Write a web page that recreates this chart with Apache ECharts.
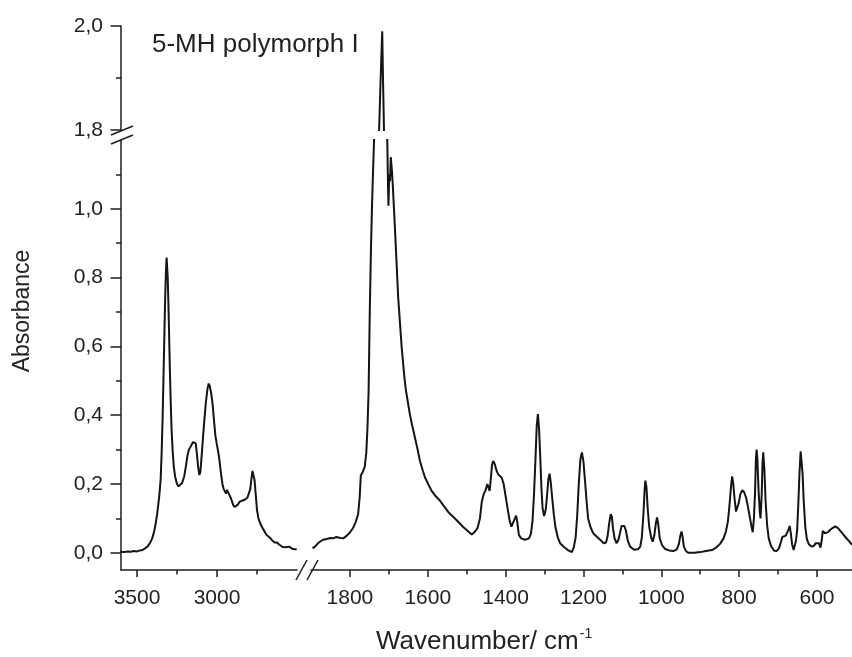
<!DOCTYPE html>
<html><head><meta charset="utf-8">
<script src="https://cdn.jsdelivr.net/npm/echarts@6/dist/echarts.min.js"></script>
<style>html,body{margin:0;padding:0;background:#fff}#c{width:852px;height:657px}</style>
</head><body><div id="c"></div>
<script>
// ---- data (wavenumber / absorbance) ----
const wnHigh = [3606,3580,3560,3540,3520,3500,3481,3465,3450,3435,3419,3405,3395,3385,3375,3367,3360,3352,3346,3340,3334,3329,3324,3319,3315,3312,3308,3304,3300,3295,3290,3284,3277,3270,3262,3250,3240,3230,3218,3205,3195,3185,3175,3160,3150,3140,3133,3126,3118,3110,3104,3097,3090,3080,3070,3060,3052,3045,3035,3027,3018,3010,3002,2993,2985,2975,2966,2958,2950,2944,2938,2933,2926,2918,2910,2900,2890,2880,2870,2860,2850,2840,2825,2810,2800,2792,2785,2778,2772,2765,2758,2750,2742,2732,2722,2711,2700,2690,2680,2669,2655,2640,2625,2612,2600,2590,2580,2570,2560,2550,2540,2530,2520,2510,2502];
const absHigh = [0.003,0.002,0.004,0.003,0.005,0.004,0.007,0.008,0.013,0.018,0.028,0.042,0.058,0.080,0.110,0.140,0.170,0.215,0.290,0.390,0.520,0.630,0.740,0.820,0.858,0.855,0.800,0.730,0.650,0.540,0.450,0.360,0.295,0.250,0.222,0.200,0.193,0.195,0.203,0.222,0.250,0.282,0.300,0.313,0.322,0.327,0.318,0.290,0.250,0.226,0.235,0.275,0.320,0.380,0.435,0.475,0.492,0.485,0.460,0.430,0.380,0.340,0.318,0.295,0.270,0.230,0.200,0.185,0.180,0.172,0.183,0.180,0.172,0.168,0.155,0.140,0.133,0.135,0.140,0.148,0.150,0.152,0.155,0.160,0.165,0.185,0.215,0.238,0.236,0.210,0.170,0.125,0.102,0.088,0.078,0.068,0.060,0.052,0.048,0.044,0.036,0.030,0.030,0.024,0.019,0.017,0.014,0.016,0.020,0.018,0.014,0.012,0.013,0.010,0.010];
const wnLow = [1896,1890,1880,1869,1860,1850,1843,1835,1825,1817,1808,1800,1792,1785,1779,1775,1772,1767,1762,1758,1755,1752,1749,1746,1743,1740,1738,1732,1725,1721,1717,1715,1712.5,1708,1704,1702,1701,1699,1697,1695,1692,1690,1684,1676,1667,1660,1656,1646,1640,1633,1626,1620,1613,1607,1598,1590,1580,1569,1560,1547,1534,1520,1509,1498,1487,1480,1472,1466,1461,1456,1452,1447,1444,1441,1438,1435,1432,1428,1423,1419,1416,1410,1405,1400,1395,1390,1385,1380,1376,1373,1370,1366,1360,1350,1340,1335,1331,1327,1323,1320,1317,1314,1311,1308,1305,1301,1297,1294,1290,1287,1284,1281,1276,1272,1266,1260,1250,1240,1230,1225,1220,1216,1212,1208,1204,1200,1196,1192,1188,1182,1175,1165,1157,1148,1142,1138,1134,1130,1127,1124,1120,1115,1110,1106,1102,1099,1095,1091,1086,1080,1070,1060,1054,1050,1046,1043,1041,1038,1035,1031,1026,1022,1018,1014,1011,1008,1004,998,990,980,969,960,955,951,948,945,942,936,930,915,900,885,870,860,849,840,834,829,825,821,818,815,812,808,805,801,797,792,787,782,777,772,768,765,762,759,757,755,753,750,747,745,742,740,738,735,732,728,724,718,710,704,698,693,689,685,680,676,673,670,667,664,660,657,654,651,648,645,642,640,637,634,630,626,621,614,608,603,599,595,591,588,585,580,576,571,566,560,553,546,540,533,525,517,510];
const absLow = [0.013,0.018,0.030,0.038,0.040,0.043,0.042,0.046,0.043,0.042,0.050,0.059,0.072,0.090,0.112,0.160,0.225,0.235,0.250,0.290,0.360,0.470,0.700,0.880,1.020,1.130,1.198,1.500,1.800,1.900,1.990,1.900,1.800,1.500,1.198,1.060,1.009,1.100,1.080,1.150,1.110,1.072,0.936,0.742,0.597,0.510,0.471,0.403,0.370,0.335,0.300,0.267,0.240,0.219,0.198,0.180,0.165,0.152,0.138,0.118,0.104,0.088,0.075,0.064,0.053,0.060,0.072,0.100,0.150,0.172,0.180,0.200,0.205,0.180,0.215,0.255,0.267,0.258,0.238,0.228,0.226,0.218,0.200,0.165,0.130,0.095,0.076,0.074,0.100,0.108,0.090,0.052,0.042,0.038,0.042,0.055,0.090,0.170,0.280,0.370,0.403,0.360,0.280,0.190,0.130,0.107,0.125,0.160,0.215,0.230,0.205,0.168,0.110,0.075,0.045,0.028,0.017,0.008,0.002,0.015,0.045,0.110,0.200,0.270,0.292,0.265,0.210,0.150,0.100,0.075,0.057,0.046,0.038,0.028,0.030,0.048,0.085,0.112,0.105,0.070,0.042,0.028,0.038,0.058,0.078,0.082,0.078,0.065,0.035,0.018,0.009,0.010,0.018,0.045,0.110,0.180,0.210,0.190,0.130,0.075,0.045,0.032,0.050,0.085,0.103,0.085,0.042,0.022,0.011,0.007,0.005,0.010,0.025,0.050,0.062,0.045,0.018,0.004,0.000,0.000,0.002,0.005,0.008,0.014,0.026,0.042,0.062,0.090,0.135,0.190,0.222,0.200,0.160,0.120,0.115,0.145,0.170,0.182,0.176,0.160,0.132,0.100,0.075,0.060,0.100,0.180,0.270,0.300,0.270,0.180,0.120,0.100,0.170,0.260,0.292,0.240,0.150,0.080,0.042,0.020,0.006,0.005,0.012,0.030,0.046,0.050,0.050,0.055,0.068,0.078,0.055,0.025,0.008,0.010,0.035,0.065,0.140,0.230,0.295,0.290,0.230,0.150,0.075,0.040,0.025,0.018,0.020,0.028,0.033,0.028,0.015,0.035,0.064,0.057,0.054,0.060,0.067,0.072,0.077,0.072,0.064,0.054,0.043,0.033,0.023];

// ---- tick values ----
const yMajorLower = [0, 0.2, 0.4, 0.6, 0.8, 1.0];
const yMinorLower = [0.1, 0.3, 0.5, 0.7, 0.9, 1.1];
const yMajorUpper = [1.8, 2.0];
const yMinorUpper = [1.9];
const xMajorHigh = [3500, 3000];
const xMinorHigh = [3250, 2750];
const xMajorLow = [1800, 1600, 1400, 1200, 1000, 800, 600];
const xMinorLow = [1700, 1500, 1300, 1100, 900, 700];

const zip = (a, b) => a.map((v, i) => [v, b[i]]);
const dataHigh = zip(wnHigh, absHigh);
const dataLow = zip(wnLow, absLow);

const INK = '#1e1e1e';
const FONT = "'Liberation Sans', Arial, sans-serif";
const L = {left: 121, gapL: 297, gapR: 311, right: 852, top: 26, upBot: 130, lowTop: 140, bottom: 570};

const chart = echarts.init(document.getElementById('c'), null, {renderer: 'canvas'});

const lineAx = {show: true, onZero: false, lineStyle: {color: INK, width: 1.5}};
const fmtY = v => v.toFixed(1).replace('.', ',');
const fmtX = v => String(Math.round(v));

function xAx(grid, min, max, ticks, major, show) {
  return {
    type: 'value', gridIndex: grid, min: min, max: max, inverse: true, position: 'bottom',
    show: show, splitLine: {show: false},
    axisLine: major ? lineAx : {show: false, onZero: false},
    axisTick: {show: true, inside: false, length: major ? 7 : 4.5, customValues: ticks,
               lineStyle: {color: INK, width: 1.5}},
    axisLabel: major ? {show: true, customValues: ticks, margin: 18, color: '#222',
               fontSize: 21, fontFamily: FONT, formatter: fmtX} : {show: false}
  };
}
function yAx(grid, min, max, ticks, major, show) {
  return {
    type: 'value', gridIndex: grid, min: min, max: max, position: 'left',
    show: show, splitLine: {show: false},
    axisLine: major ? lineAx : {show: false, onZero: false},
    axisTick: {show: true, inside: false, length: major ? 10.5 : 5, customValues: ticks,
               lineStyle: {color: INK, width: 1.5}},
    axisLabel: major ? {show: true, customValues: ticks, margin: 18, color: '#222',
               fontSize: 21, fontFamily: FONT, formatter: fmtY} : {show: false}
  };
}

const lineSeries = (xi, yi, data) => ({
  type: 'line', xAxisIndex: xi, yAxisIndex: yi, data: data, clip: true,
  symbol: 'none', showSymbol: false, smooth: false, silent: true,
  lineStyle: {color: '#141414', width: 2}
});

const option = {
  animation: false,
  backgroundColor: '#fff',
  grid: [
    {left: L.left, top: L.lowTop, width: L.gapL - L.left, height: L.bottom - L.lowTop},
    {left: L.gapR, top: L.lowTop, width: L.right - L.gapR, height: L.bottom - L.lowTop},
    {left: L.left, top: L.top, width: L.gapL - L.left, height: L.upBot - L.top},
    {left: L.gapR, top: L.top, width: L.right - L.gapR, height: L.upBot - L.top}
  ],
  xAxis: [
    xAx(0, 2500, 3600, xMajorHigh, true, true),
    xAx(0, 2500, 3600, xMinorHigh, false, true),
    xAx(1, 510, 1900, xMajorLow, true, true),
    xAx(1, 510, 1900, xMinorLow, false, true),
    xAx(2, 2500, 3600, [], false, false),
    xAx(3, 510, 1900, [], false, false)
  ],
  yAxis: [
    yAx(0, -0.05, 1.2, yMajorLower, true, true),
    yAx(0, -0.05, 1.2, yMinorLower, false, true),
    yAx(1, -0.05, 1.2, [], false, false),
    yAx(2, 1.8, 2.0, yMajorUpper, true, true),
    yAx(2, 1.8, 2.0, yMinorUpper, false, true),
    yAx(3, 1.8, 2.0, [], false, false)
  ],
  series: [
    lineSeries(0, 0, dataHigh),
    lineSeries(2, 2, dataLow),
    lineSeries(5, 5, dataLow)
  ]
};
chart.setOption(option);

// ---- decorations: axis break marks and texts ----
const yBreakTop = chart.convertToPixel({yAxisIndex: 3}, 1.8);
const yBreakBot = chart.convertToPixel({yAxisIndex: 0}, 1.2);
const xBreakL = chart.convertToPixel({xAxisIndex: 0}, 2500);
const xBreakR = chart.convertToPixel({xAxisIndex: 2}, 1900);
const xAxisY = chart.convertToPixel({yAxisIndex: 0}, -0.05);
const slash = (cx, cy, dx, dy) => ({
  type: 'line', silent: true,
  shape: {x1: cx - dx, y1: cy + dy, x2: cx + dx, y2: cy - dy},
  style: {stroke: INK, lineWidth: 1.5}
});
chart.setOption({
  graphic: [
    slash(L.left + 1, yBreakTop + 0.5, 11, 4.5),
    slash(L.left + 1, yBreakBot - 0.5, 11, 4.5),
    slash(xBreakL + 4.5, xAxisY, 5.5, 10),
    slash(xBreakR + 1.5, xAxisY, 5.5, 10),
    {type: 'text', left: 152, top: 32, silent: true,
     style: {text: '5-MH polymorph I', fill: '#222', font: '26px ' + FONT}},
    {type: 'text', x: 23, y: 311, rotation: Math.PI / 2, silent: true,
     style: {text: 'Absorbance', fill: '#222', font: '23px ' + FONT, align: 'center', verticalAlign: 'middle'}},
    {type: 'text', left: 376, top: 627, silent: true,
     style: {text: '{a|Wavenumber/ cm}{s|-1}', fill: '#222',
       rich: {a: {fontSize: 26, fontFamily: FONT, lineHeight: 28, fill: '#222', verticalAlign: 'bottom'},
              s: {fontSize: 14, fontFamily: FONT, lineHeight: 14, fill: '#222', verticalAlign: 'top', padding: [0,0,0,1]}}}}
  ]
});
</script></body></html>
